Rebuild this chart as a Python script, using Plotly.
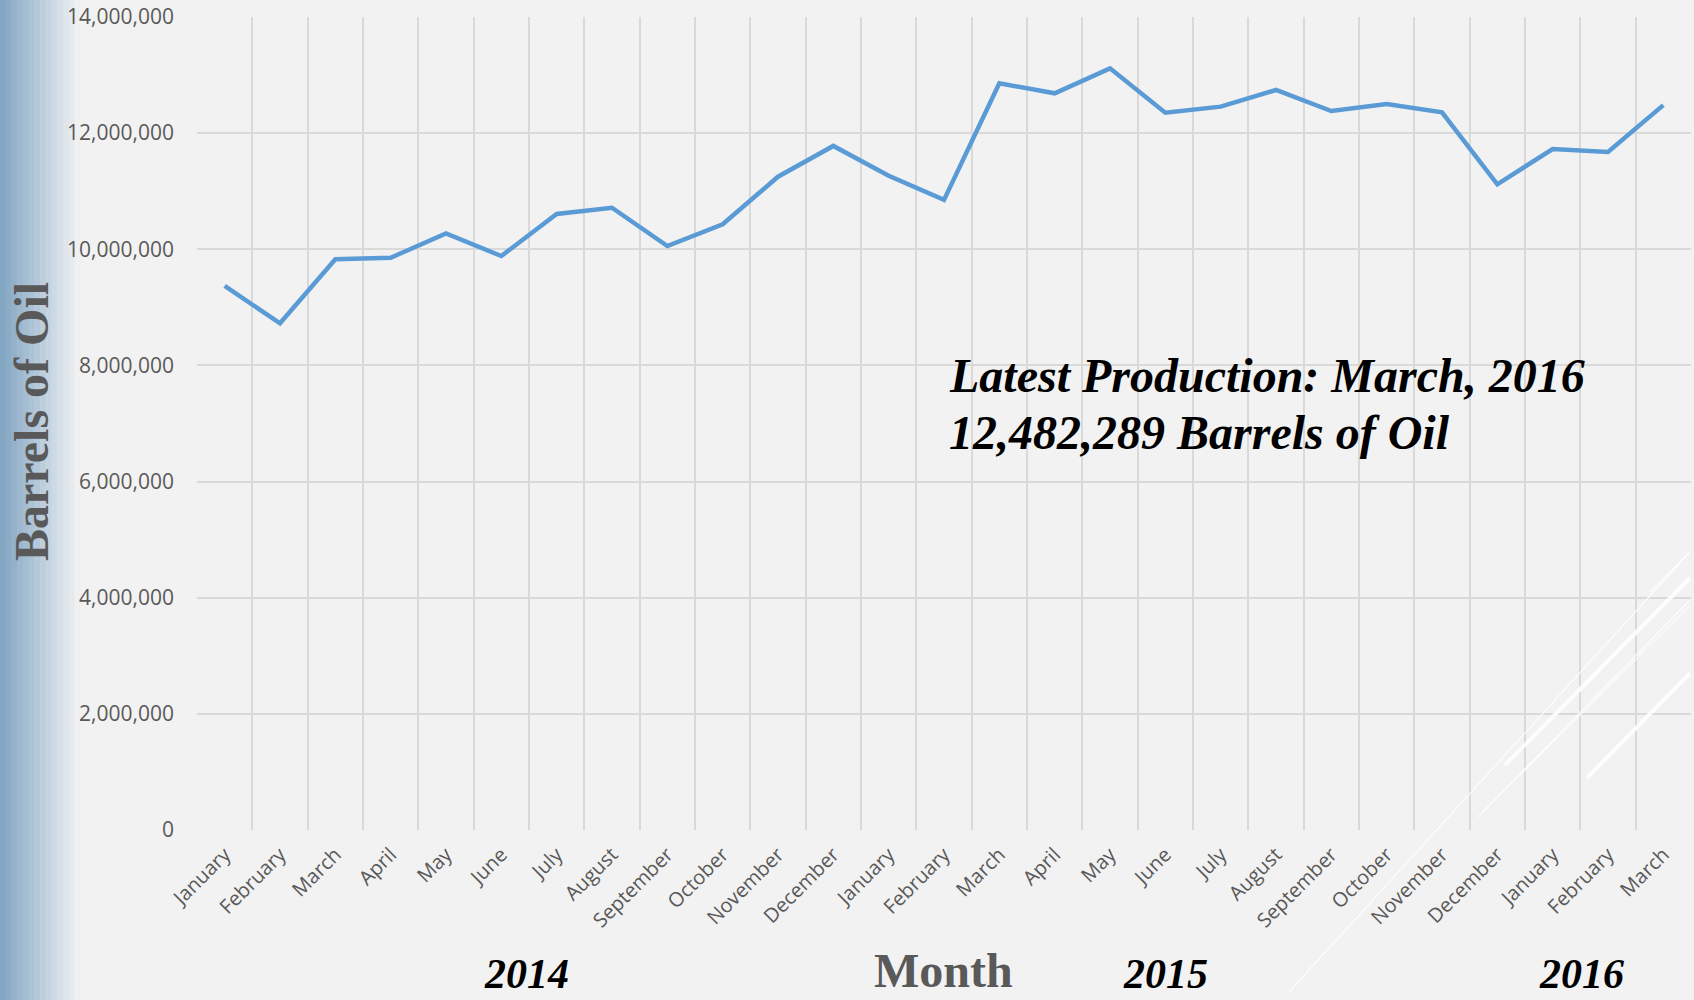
import plotly.graph_objects as go

# ---------------- data ----------------
month_labels = ["January", "February", "March", "April", "May", "June", "July",
                "August", "September", "October", "November", "December",
                "January", "February", "March", "April", "May", "June", "July",
                "August", "September", "October", "November", "December",
                "January", "February", "March"]
barrels = [9368000, 8725000, 9828000, 9855000, 10275000, 9884000, 10608000,
           10716000, 10057000, 10430000, 11250000, 11780000,
           11267000, 10850000, 12858000, 12686000, 13116000, 12352000, 12456000,
           12743000, 12381000, 12502000, 12359000, 11119000,
           11727000, 11675000, 12482289]
years = ["2014", "2015", "2016"]
y_ticks = [0, 2000000, 4000000, 6000000, 8000000, 10000000, 12000000, 14000000]

W, H = 1694, 1000
L, R, T, B = 197, 3, 17, 170
PW = W - L - R
PH = H - T - B


def px(x):
    return (x - L) / PW


def py(y):
    return (H - B - y) / PH


xs = list(range(len(barrels)))
BG = "#F2F2F2"
GRID = "#D9D9D9"
TXT = "#595959"

fig = go.Figure()
fig.add_trace(go.Scatter(x=xs, y=barrels, mode="lines",
                         line=dict(color="#5B9BD5", width=4.5),
                         hoverinfo="skip", showlegend=False))

shapes = []
# left gradient band
n = 14
c0 = (131, 166, 195)
c1 = (238, 240, 242)
bw = 80 / n
for i in range(n):
    t = i / (n - 1)
    c = tuple(int(round(c0[k] + (c1[k] - c0[k]) * t)) for k in range(3))
    shapes.append(dict(type="rect", xref="paper", yref="paper",
                       x0=px(i * bw), x1=px((i + 1) * bw + 0.5),
                       y0=py(H), y1=py(0), line=dict(width=0),
                       fillcolor="rgb(%d,%d,%d)" % c, layer="below"))

# decorative white streaks (bottom right)
streaks = [((1289, 992), (1690, 552), 1.2, 0.9),
           ((1505, 765), (1690, 578), 4, 0.9),
           ((1587, 778), (1690, 673), 4, 0.9),
           ((1478, 817), (1690, 600), 1.5, 0.8),
           ((1650, 592), (1687, 555), 1.5, 0.8),
           ((1520, 775), (1690, 605), 1.5, 0.7)]
for (a, b, w, o) in streaks:
    shapes.append(dict(type="line", xref="paper", yref="paper",
                       x0=px(a[0]), y0=py(a[1]), x1=px(b[0]), y1=py(b[1]),
                       line=dict(color="white", width=w), opacity=o, layer="above"))

annotations = []
serif = "Liberation Serif, Times New Roman, serif"
annotations.append(dict(text="<b>Barrels of Oil</b>", xref="paper", yref="paper",
                        x=px(31), y=py(422), textangle=-90, showarrow=False,
                        xanchor="center", yanchor="middle",
                        font=dict(family=serif, size=48, color=TXT)))
annotations.append(dict(text="<b>Month</b>", xref="paper", yref="paper",
                        x=px(943), y=py(999), showarrow=False,
                        xanchor="center", yanchor="bottom",
                        font=dict(family=serif, size=48, color=TXT)))
for yr, cx in zip(years, [526, 1165, 1581]):
    annotations.append(dict(text="<b><i>%s</i></b>" % yr, xref="paper", yref="paper",
                            x=px(cx), y=py(999), showarrow=False,
                            xanchor="center", yanchor="bottom",
                            font=dict(family=serif, size=42, color="black")))
latest = barrels[-1]
annotations.append(dict(text="<b><i>Latest Production: %s, 2016</i></b>" % month_labels[-1],
                        xref="paper", yref="paper", x=px(947), y=py(375),
                        showarrow=False, xanchor="left", yanchor="middle",
                        font=dict(family=serif, size=48, color="black")))
annotations.append(dict(text="<b><i>{:,} Barrels of Oil</i></b>".format(latest),
                        xref="paper", yref="paper", x=px(947), y=py(433),
                        showarrow=False, xanchor="left", yanchor="middle",
                        font=dict(family=serif, size=48, color="black")))

fig.update_layout(
    width=W, height=H,
    margin=dict(l=L, r=R, t=T, b=B, pad=0),
    paper_bgcolor=BG, plot_bgcolor=BG,
    shapes=shapes, annotations=annotations,
    xaxis=dict(range=[-0.5, len(xs) - 0.5], tickmode="array", tickvals=xs,
               ticktext=month_labels, tickangle=-45, showgrid=False,
               zeroline=False, showline=False, ticks="",
               ticklabelstandoff=8,
               tickfont=dict(family="Open Sans", size=20, color=TXT),
               minor=dict(tickmode="linear", tick0=-0.5, dtick=1, showgrid=True,
                          gridcolor=GRID, gridwidth=2, ticks="")),
    yaxis=dict(range=[0, 14000000], tickmode="array", tickvals=y_ticks,
               tickformat=",", showgrid=True, gridcolor=GRID, gridwidth=2,
               zeroline=False, showline=False, ticks="",
               ticklabelstandoff=22,
               tickfont=dict(family="Open Sans", size=21, color=TXT)),
)

fig.write_html("out.html", config={"displayModeBar": False},
               post_script="document.body.style.margin='0';")
